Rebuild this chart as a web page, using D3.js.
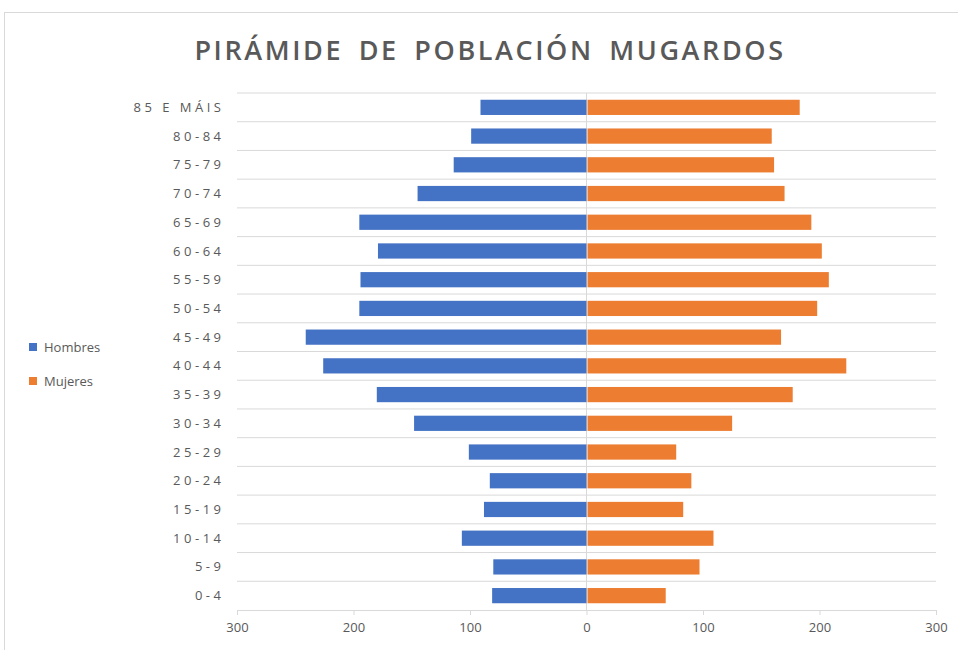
<!DOCTYPE html>
<html>
<head>
<meta charset="utf-8">
<script src="https://cdn.jsdelivr.net/npm/d3@7"></script>
<style>
  body { margin: 0; background: #fff; }
  text { font-family: "Open Sans", "Liberation Sans", sans-serif; }
</style>
</head>
<body>
<div id="chart"></div>
<script>
const categories = ["85 E MÁIS", "80-84", "75-79", "70-74", "65-69", "60-64", "55-59", "50-54", "45-49",
    "40-44", "35-39", "30-34", "25-29", "20-24", "15-19", "10-14", "5-9", "0-4"];
const hombres = [91, 99, 114, 145, 195, 179, 194, 195, 241, 226, 180, 148, 101, 83, 88, 107, 80, 81];
const mujeres = [183, 159, 161, 170, 193, 202, 208, 198, 167, 223, 177, 125, 77, 90, 83, 109, 97, 68];
const xTicks = [-300, -200, -100, 0, 100, 200, 300];
const seriesNames = ["Hombres", "Mujeres"];
const colors = ["#4472C4", "#ED7D31"];

const W = 958, H = 650;
const plot = { left: 237, right: 936, top: 93, bottom: 610 };
const pad = 0.47;

const svg = d3.select("#chart")
    .append("svg")
    .attr("width", W)
    .attr("height", H);

// frame (cropped on right/bottom in the reference)
svg.append("rect")
    .attr("x", 4.5).attr("y", 12.5)
    .attr("width", W + 10).attr("height", H + 10)
    .attr("fill", "none")
    .attr("stroke", "#d9d9d9");

svg.append("text")
    .attr("x", 490).attr("y", 60)
    .attr("text-anchor", "middle")
    .attr("font-size", 27)
    .attr("font-weight", 600)
    .attr("letter-spacing", 2.6)
    .attr("word-spacing", 6)
    .attr("fill", "#595959")
    .text("PIRÁMIDE DE POBLACIÓN MUGARDOS");

const x = d3.scaleLinear()
    .domain([-300, 300])
    .range([plot.left, plot.right]);

const y = d3.scaleBand()
    .domain(categories)
    .range([plot.top, plot.bottom])
    .paddingInner(pad)
    .paddingOuter(pad / 2);

// horizontal gridlines at band boundaries
const gridYs = categories.map(c => y(c) - y.step() * pad / 2);
svg.append("g")
    .selectAll("line")
    .data(gridYs)
    .enter()
    .append("line")
    .attr("x1", plot.left).attr("x2", plot.right)
    .attr("y1", d => d).attr("y2", d => d)
    .attr("stroke", "#d9d9d9")
    .attr("stroke-width", 1);

// zero line
svg.append("line")
    .attr("x1", x(0)).attr("x2", x(0))
    .attr("y1", plot.top).attr("y2", plot.bottom)
    .attr("stroke", "#d9d9d9");

svg.append("g")
    .selectAll("rect")
    .data(hombres)
    .enter()
    .append("rect")
    .attr("x", d => x(-d))
    .attr("y", (d, i) => y(categories[i]))
    .attr("width", d => x(0) - x(-d))
    .attr("height", y.bandwidth())
    .attr("fill", colors[0]);

svg.append("g")
    .selectAll("rect")
    .data(mujeres)
    .enter()
    .append("rect")
    .attr("x", x(0) + 1)
    .attr("y", (d, i) => y(categories[i]))
    .attr("width", d => x(d) - x(0) - 1)
    .attr("height", y.bandwidth())
    .attr("fill", colors[1]);

// category labels
svg.append("g")
    .selectAll("text")
    .data(categories)
    .enter()
    .append("text")
    .attr("x", 224.5)
    .attr("y", d => y(d) + y.bandwidth() / 2)
    .attr("dy", "0.35em")
    .attr("text-anchor", "end")
    .attr("font-size", 13)
    .attr("letter-spacing", 3.5)
    .attr("fill", "#595959")
    .text(d => d);

// bottom axis
const xAxis = svg.append("g")
    .attr("transform", `translate(0,${plot.bottom})`)
    .call(d3.axisBottom(x).tickValues(xTicks).tickFormat(d => Math.abs(d)).tickSize(5).tickPadding(8));
xAxis.select(".domain").attr("stroke", "#d9d9d9").attr("d", `M${plot.left},0.5H${plot.right}`);
xAxis.selectAll(".tick line").attr("stroke", "#d9d9d9");
xAxis.selectAll(".tick text")
    .attr("fill", "#595959")
    .attr("font-size", 13)
    .attr("font-family", "'Open Sans', sans-serif");

// legend
const legend = svg.append("g")
    .selectAll("g")
    .data(seriesNames)
    .enter()
    .append("g")
    .attr("transform", (d, i) => `translate(29,${343 + i * 34})`);
legend.append("rect")
    .attr("width", 8).attr("height", 8)
    .attr("fill", (d, i) => colors[i]);
legend.append("text")
    .attr("x", 15).attr("y", 4)
    .attr("dy", "0.35em")
    .attr("font-size", 13)
    .attr("fill", "#595959")
    .text(d => d);
</script>
</body>
</html>
